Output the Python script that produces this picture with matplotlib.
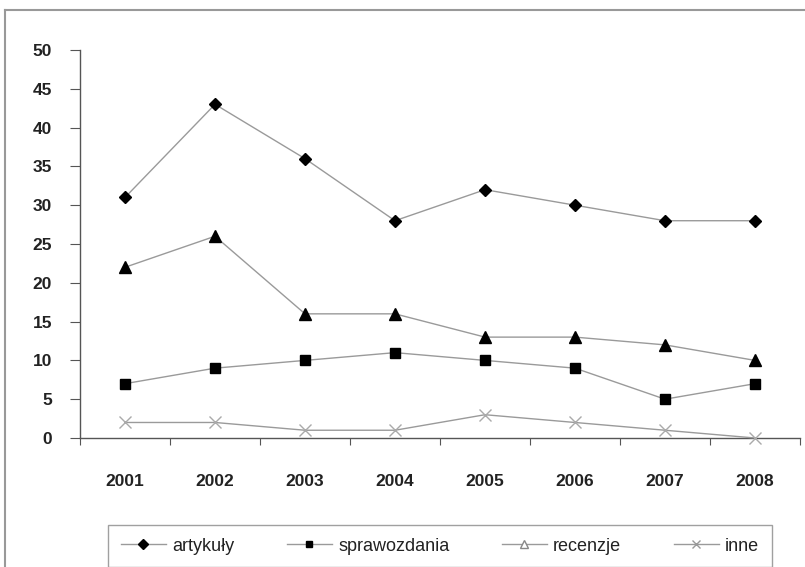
import matplotlib
matplotlib.use("Agg")
import matplotlib.pyplot as plt
from matplotlib.lines import Line2D
import numpy as np

years = ["2001", "2002", "2003", "2004", "2005", "2006", "2007", "2008"]
artykuly = [31, 43, 36, 28, 32, 30, 28, 28]
sprawozdania = [7, 9, 10, 11, 10, 9, 5, 7]
recenzje = [22, 26, 16, 16, 13, 13, 12, 10]
inne = [2, 2, 1, 1, 3, 2, 1, 0]
labels = ["artykuły", "sprawozdania", "recenzje", "inne"]

plt.rcParams['font.family'] = ['Liberation Sans', 'DejaVu Sans']

W, H = 805, 567
fig = plt.figure(figsize=(W / 100, H / 100), dpi=100)
ax = fig.add_axes([80 / W, 1 - 438 / H, 720 / W, 388 / H])

x = np.arange(len(years))
lc = "#9a9a9a"
ax.plot(x, artykuly, color=lc, lw=1, marker="D", ms=6, mfc="black", mec="black", clip_on=False, zorder=3)
ax.plot(x, sprawozdania, color=lc, lw=1, marker="s", ms=7, mfc="black", mec="black", clip_on=False, zorder=3)
ax.plot(x, recenzje, color=lc, lw=1, marker="^", ms=8, mfc="black", mec="black", clip_on=False, zorder=3)
ax.plot(x, inne, color=lc, lw=1, marker="x", ms=8, mec="#aaaaaa", mew=1, clip_on=False, zorder=3)

ax.set_xlim(-0.5, len(years) - 0.5)
ax.set_ylim(0, 50)
ax.set_yticks(range(0, 51, 5))
ax.set_xticks(np.arange(-0.5, len(years), 1.0))
ax.set_xticklabels([])
ax.set_xticks(x, minor=True)
ax.set_xticklabels(years, minor=True)
ax.tick_params(axis="x", which="minor", length=0, pad=26, labelsize=12.5)
ax.tick_params(axis="x", which="major", length=5, direction="out", color="#555555")
ax.tick_params(axis="y", length=7, direction="out", color="#555555", labelsize=12.5, pad=13)
for lab in ax.get_xticklabels(minor=True) + ax.get_yticklabels():
    lab.set_fontweight("bold")
    lab.set_color("#222222")

for s in ["top", "right"]:
    ax.spines[s].set_visible(False)
ax.spines["left"].set_color("#555555")
ax.spines["bottom"].set_color("#555555")
ax.spines["left"].set_linewidth(1)
ax.spines["bottom"].set_linewidth(1)

# outer figure border (top and left)
fig.add_artist(Line2D([5 / W, 5 / W], [0, 1 - 10 / H], transform=fig.transFigure, color="#999999", lw=1.5))
fig.add_artist(Line2D([5 / W, 1], [1 - 10 / H, 1 - 10 / H], transform=fig.transFigure, color="#999999", lw=1.5))

handles = [
    Line2D([], [], color=lc, lw=1, marker="D", ms=5, mfc="black", mec="black"),
    Line2D([], [], color=lc, lw=1, marker="s", ms=5, mfc="black", mec="black"),
    Line2D([], [], color=lc, lw=1, marker="^", ms=6, mfc="white", mec="#888888"),
    Line2D([], [], color=lc, lw=1, marker="x", ms=6, mec="#999999"),
]
leg = fig.legend(handles, labels, loc="upper left", ncol=4,
                 bbox_to_anchor=(108 / W, 1 - 525 / H),
                 frameon=True, fancybox=False, fontsize=13, handlelength=2.5,
                 borderaxespad=0, handletextpad=0.35, columnspacing=2.9,
                 borderpad=0.7)
leg.get_frame().set_edgecolor("#888888")
leg.get_frame().set_linewidth(1)
for t in leg.get_texts():
    t.set_color("#222222")

fig.savefig("out.png", dpi=100)
